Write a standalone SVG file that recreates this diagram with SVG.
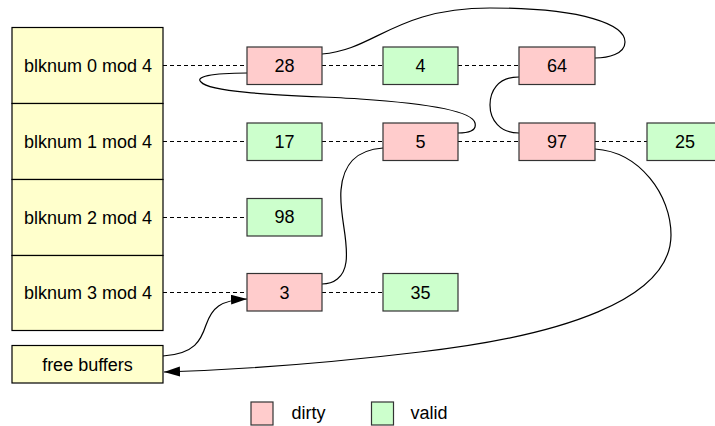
<svg xmlns="http://www.w3.org/2000/svg" width="715" height="426" viewBox="0 0 715 426">
<style>
text{font-family:"Liberation Sans",Arial,sans-serif;font-size:18px;fill:#000;text-anchor:middle;dominant-baseline:central}
.tbl{fill:#ffffcc;stroke:#000;stroke-width:1.2}
.dirty{fill:#ffcccc;stroke:#333;stroke-width:1.2}
.valid{fill:#ccffcc;stroke:#333;stroke-width:1.2}
.dash{stroke:#000;stroke-width:1;stroke-dasharray:4,3;fill:none}
.link{stroke:#000;stroke-width:1.2;fill:none}
</style>
<defs>
<marker id="arr" markerUnits="userSpaceOnUse" markerWidth="18" markerHeight="12" refX="16" refY="5" orient="auto">
<path d="M0,0 L16,5 L0,10 Z" fill="#000"/>
</marker>
</defs>
<g id="hash-table">
<rect class="tbl" x="12" y="27.5" width="151" height="76"/>
<rect class="tbl" x="12" y="103.5" width="151" height="76"/>
<rect class="tbl" x="12" y="179.5" width="151" height="76"/>
<rect class="tbl" x="12" y="255.5" width="151" height="75"/>
<text x="88" y="65.5">blknum 0 mod 4</text>
<text x="88" y="141.5">blknum 1 mod 4</text>
<text x="88" y="217.5">blknum 2 mod 4</text>
<text x="88" y="293">blknum 3 mod 4</text>
</g>
<g id="free-buffers">
<rect class="tbl" x="12" y="345.5" width="151" height="37.5"/>
<text x="87.5" y="364.5">free buffers</text>
</g>
<g id="connectors">
<path class="dash" d="M163,65.5H247M322,65.5H383M458,65.5H519"/>
<path class="dash" d="M163,141.5H247M322,141.5H383M458,141.5H519M595,141.5H647"/>
<path class="dash" d="M163,217.5H247"/>
<path class="dash" d="M163,292.5H247M322,292.5H383"/>
<path class="link" d="M322,54 C375,50 395,8 490,8 C585,8 625,25 625,42 C625,54 608,58 595,58"/>
<path class="link" d="M247,73 C210,73 195,77 201,82 C212,95 320,96 360,99 C420,103 472,110 475,123 C477,131 468,133 458,133"/>
<path class="link" d="M519,77 C497,77 490,92 490,105 C490,120 500,133 519,133"/>
<path class="link" d="M383,148 C355,150 343,165 341,190 C339,215 349,240 346,262 C344,278 333,284 322,284"/>
<path class="link" marker-end="url(#arr)" d="M595,149 C640,152 671,195 671,235 C671,300 560,336 420,352 C320,364 230,370 164,372"/>
<path class="link" marker-end="url(#arr)" d="M163,356 C195,354 201,340 206,325 C212,308 220,300 247,299"/>
</g>
<g id="n28"><rect class="dirty" x="247" y="47" width="75" height="37.5"/><text x="284.5" y="65.5">28</text></g>
<g id="n4"><rect class="valid" x="383" y="47" width="75" height="37.5"/><text x="420.5" y="65.5">4</text></g>
<g id="n64"><rect class="dirty" x="519" y="47" width="76" height="37.5"/><text x="557" y="65.5">64</text></g>
<g id="n17"><rect class="valid" x="247" y="123" width="75" height="37.5"/><text x="284.5" y="141.5">17</text></g>
<g id="n5"><rect class="dirty" x="383" y="123" width="75" height="37.5"/><text x="420.5" y="141.5">5</text></g>
<g id="n97"><rect class="dirty" x="519" y="123" width="76" height="37.5"/><text x="557" y="141.5">97</text></g>
<g id="n25"><rect class="valid" x="647" y="123" width="76" height="37.5"/><text x="685" y="141.5">25</text></g>
<g id="n98"><rect class="valid" x="247" y="198.5" width="75" height="37.5"/><text x="284.5" y="217">98</text></g>
<g id="n3"><rect class="dirty" x="247" y="273.5" width="75" height="37.5"/><text x="284.5" y="292.5">3</text></g>
<g id="n35"><rect class="valid" x="383" y="273.5" width="75" height="37.5"/><text x="420.5" y="292.5">35</text></g>
<g id="legend">
<rect class="dirty" x="251" y="402" width="22" height="23"/>
<text x="291.5" y="413" style="text-anchor:start">dirty</text>
<rect class="valid" x="371.5" y="402" width="22" height="23"/>
<text x="410.5" y="413" style="text-anchor:start">valid</text>
</g>
</svg>
